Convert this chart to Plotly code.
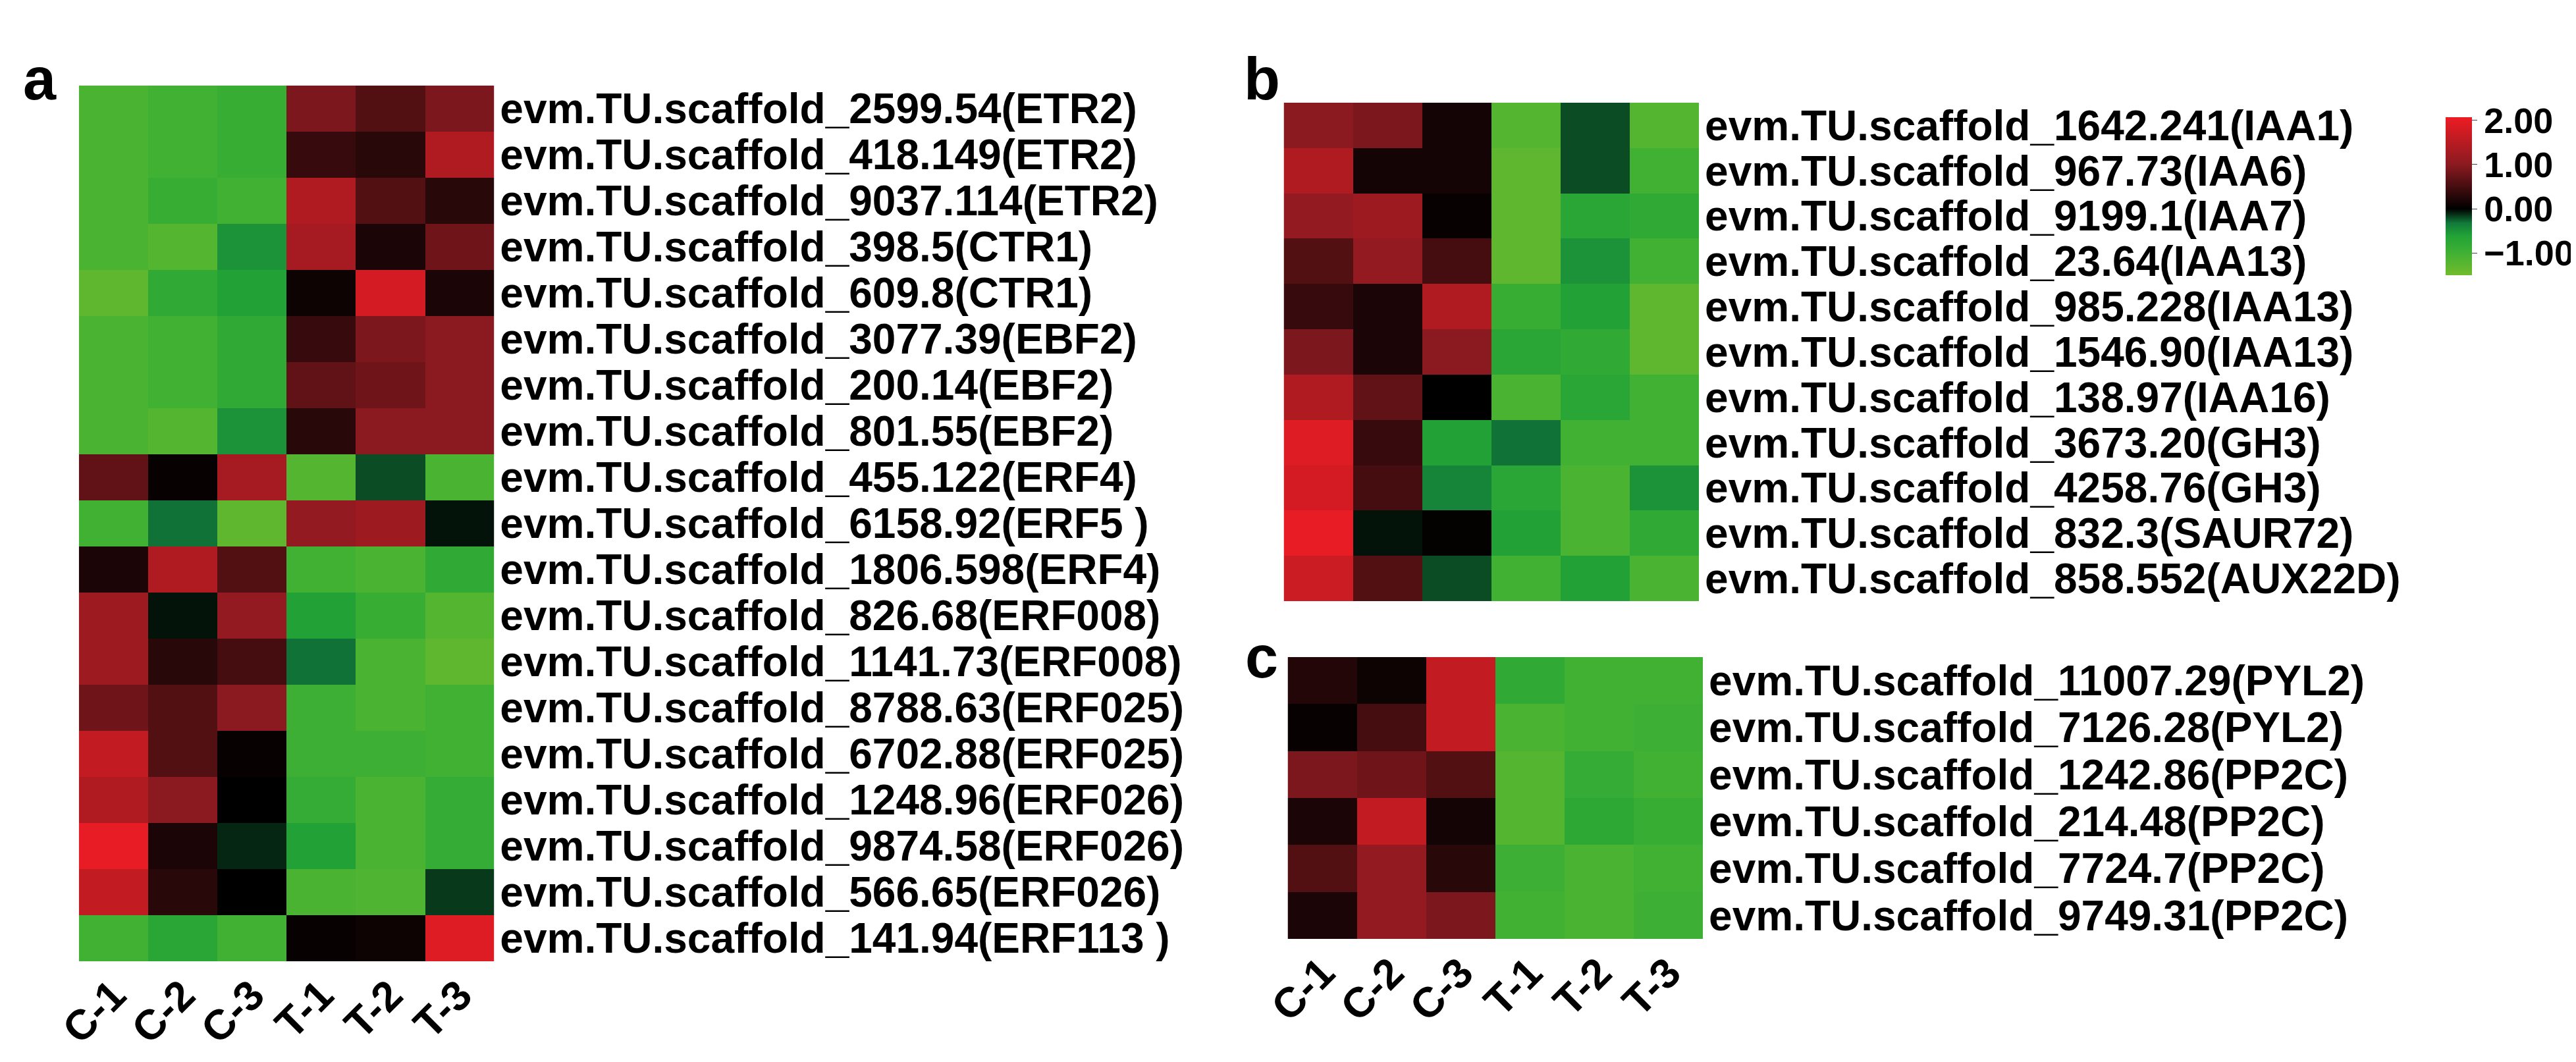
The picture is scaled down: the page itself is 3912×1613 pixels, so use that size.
import plotly.graph_objects as go

samples = ["C-1", "C-2", "C-3", "T-1", "T-2", "T-3"]

genes_a = ["evm.TU.scaffold_2599.54(ETR2)", "evm.TU.scaffold_418.149(ETR2)", "evm.TU.scaffold_9037.114(ETR2)",
           "evm.TU.scaffold_398.5(CTR1)", "evm.TU.scaffold_609.8(CTR1)", "evm.TU.scaffold_3077.39(EBF2)",
           "evm.TU.scaffold_200.14(EBF2)", "evm.TU.scaffold_801.55(EBF2)", "evm.TU.scaffold_455.122(ERF4)",
           "evm.TU.scaffold_6158.92(ERF5 )", "evm.TU.scaffold_1806.598(ERF4)", "evm.TU.scaffold_826.68(ERF008)",
           "evm.TU.scaffold_1141.73(ERF008)", "evm.TU.scaffold_8788.63(ERF025)", "evm.TU.scaffold_6702.88(ERF025)",
           "evm.TU.scaffold_1248.96(ERF026)", "evm.TU.scaffold_9874.58(ERF026)", "evm.TU.scaffold_566.65(ERF026)",
           "evm.TU.scaffold_141.94(ERF113 )"]
values_a = [
    [-1.1, -1.0, -0.9, 0.9, 0.6, 0.9],
    [-1.1, -1.0, -0.9, 0.4, 0.3, 1.4],
    [-1.1, -0.9, -1.0, 1.4, 0.6, 0.3],
    [-1.1, -1.2, -0.5, 1.3, 0.2, 0.8],
    [-1.3, -0.8, -0.6, 0.1, 1.8, 0.2],
    [-1.1, -1.0, -0.8, 0.4, 0.9, 1.0],
    [-1.1, -1.0, -0.8, 0.7, 0.8, 1.0],
    [-1.1, -1.2, -0.5, 0.3, 1.0, 1.0],
    [0.7, 0.05, 1.3, -1.2, -0.2, -1.1],
    [-1.0, -0.3, -1.3, 1.1, 1.2, -0.05],
    [0.2, 1.4, 0.6, -1.0, -1.1, -0.8],
    [1.2, -0.05, 1.1, -0.6, -0.9, -1.2],
    [1.2, 0.3, 0.5, -0.3, -1.1, -1.3],
    [0.8, 0.6, 1.0, -0.95, -1.1, -1.0],
    [1.6, 0.6, 0.05, -0.95, -0.95, -1.0],
    [1.4, 1.0, 0.0, -0.85, -1.1, -0.85],
    [2.0, 0.2, -0.1, -0.6, -1.1, -0.85],
    [1.6, 0.3, 0.0, -1.1, -1.15, -0.15],
    [-1.0, -0.7, -1.0, 0.05, 0.1, 1.9],
]

genes_b = ["evm.TU.scaffold_1642.241(IAA1)", "evm.TU.scaffold_967.73(IAA6)", "evm.TU.scaffold_9199.1(IAA7)",
           "evm.TU.scaffold_23.64(IAA13)", "evm.TU.scaffold_985.228(IAA13)", "evm.TU.scaffold_1546.90(IAA13)",
           "evm.TU.scaffold_138.97(IAA16)", "evm.TU.scaffold_3673.20(GH3)", "evm.TU.scaffold_4258.76(GH3)",
           "evm.TU.scaffold_832.3(SAUR72)", "evm.TU.scaffold_858.552(AUX22D)"]
values_b = [
    [1.0, 0.9, 0.15, -1.2, -0.2, -1.2],
    [1.4, 0.15, 0.15, -1.3, -0.2, -1.0],
    [1.1, 1.2, 0.05, -1.3, -0.7, -0.8],
    [0.6, 1.1, 0.5, -1.3, -0.5, -1.0],
    [0.4, 0.2, 1.4, -0.9, -0.6, -1.3],
    [0.9, 0.2, 1.0, -0.7, -0.8, -1.3],
    [1.4, 0.7, 0.0, -1.1, -0.7, -1.0],
    [1.9, 0.4, -0.6, -0.3, -1.0, -1.0],
    [1.8, 0.5, -0.4, -0.7, -1.1, -0.5],
    [2.0, -0.05, 0.03, -0.6, -1.1, -0.8],
    [1.7, 0.6, -0.2, -1.0, -0.6, -1.1],
]

genes_c = ["evm.TU.scaffold_11007.29(PYL2)", "evm.TU.scaffold_7126.28(PYL2)", "evm.TU.scaffold_1242.86(PP2C)",
           "evm.TU.scaffold_214.48(PP2C)", "evm.TU.scaffold_7724.7(PP2C)", "evm.TU.scaffold_9749.31(PP2C)"]
values_c = [
    [0.25, 0.1, 1.6, -0.8, -1.0, -1.0],
    [0.05, 0.5, 1.6, -1.1, -1.0, -0.95],
    [0.9, 0.8, 0.6, -1.2, -0.85, -1.0],
    [0.2, 1.6, 0.15, -1.2, -0.75, -0.9],
    [0.6, 1.1, 0.3, -0.95, -1.1, -1.0],
    [0.2, 1.1, 0.9, -1.0, -1.1, -0.95],
]

colorscale = [[0.0, "#72bb2c"], [0.15, "#3db034"], [0.25, "#22a236"], [0.33, "#117a3a"],
              [0.42, "#000000"], [0.7, "#8a1a20"], [1.0, "#ed1c24"]]
ZMIN, ZMAX = -1.5, 2.07
W, H = 3912, 1613
FONT = dict(family="Liberation Sans, Arial", size=64, color="black", weight="bold")

fig = go.Figure()

def px_x(a, b):
    return [a / W, b / W]

def px_y(top, bottom):
    return [1 - bottom / H, 1 - top / H]

panels = [
    (values_a, genes_a, "", px_x(112, 744), px_y(122, 1452), True),
    (values_b, genes_b, "2", px_x(1946, 2578), px_y(148, 905), False),
    (values_c, genes_c, "3", px_x(1952, 2584), px_y(990, 1418), True),
]

for i, (vals, genes, ax, xd, yd, show_x) in enumerate(panels):
    fig.add_trace(go.Heatmap(
        z=vals, x=samples, y=genes, xaxis="x" + ax, yaxis="y" + ax,
        colorscale=colorscale, zmin=ZMIN, zmax=ZMAX, xgap=0, ygap=0,
        showscale=(i == 1),
        colorbar=dict(x=3705 / W, xanchor="left", y=1 - 160 / H, yanchor="top",
                      len=(420 - 160) / H, lenmode="fraction", thickness=40,
                      tickvals=[2, 1, 0, -1], tickformat=".2f", ticks="outside",
                      ticklen=8, tickfont=dict(FONT, size=54), outlinewidth=0),
    ))
    fig.layout["xaxis" + ax] = dict(domain=xd, anchor="y" + ax, showticklabels=show_x,
                                    tickangle=-45, tickfont=FONT, showgrid=False,
                                    zeroline=False, ticks="", automargin=False,
                                    tickmode="array", tickvals=samples, ticktext=samples)
    fig.layout["yaxis" + ax] = dict(domain=yd, anchor="x" + ax, side="right",
                                    autorange="reversed", tickfont=FONT, showgrid=False,
                                    zeroline=False, ticks="", ticklabelstandoff=8,
                                    automargin=False, tickmode="array",
                                    tickvals=genes, ticktext=genes)

for letter, x, y in [("a", 25, 60), ("b", 1883, 60), ("c", 1885, 990)]:
    fig.add_annotation(text=letter, x=x / W, y=1 - y / H, xref="paper", yref="paper",
                       xanchor="left", showarrow=False,
                       font=dict(family="Liberation Sans, Arial", size=90,
                                 color="black", weight="bold"))

fig.update_layout(width=W, height=H, margin=dict(l=0, r=0, t=0, b=0),
                  plot_bgcolor="white", paper_bgcolor="white")

fig.write_html("out.html")
